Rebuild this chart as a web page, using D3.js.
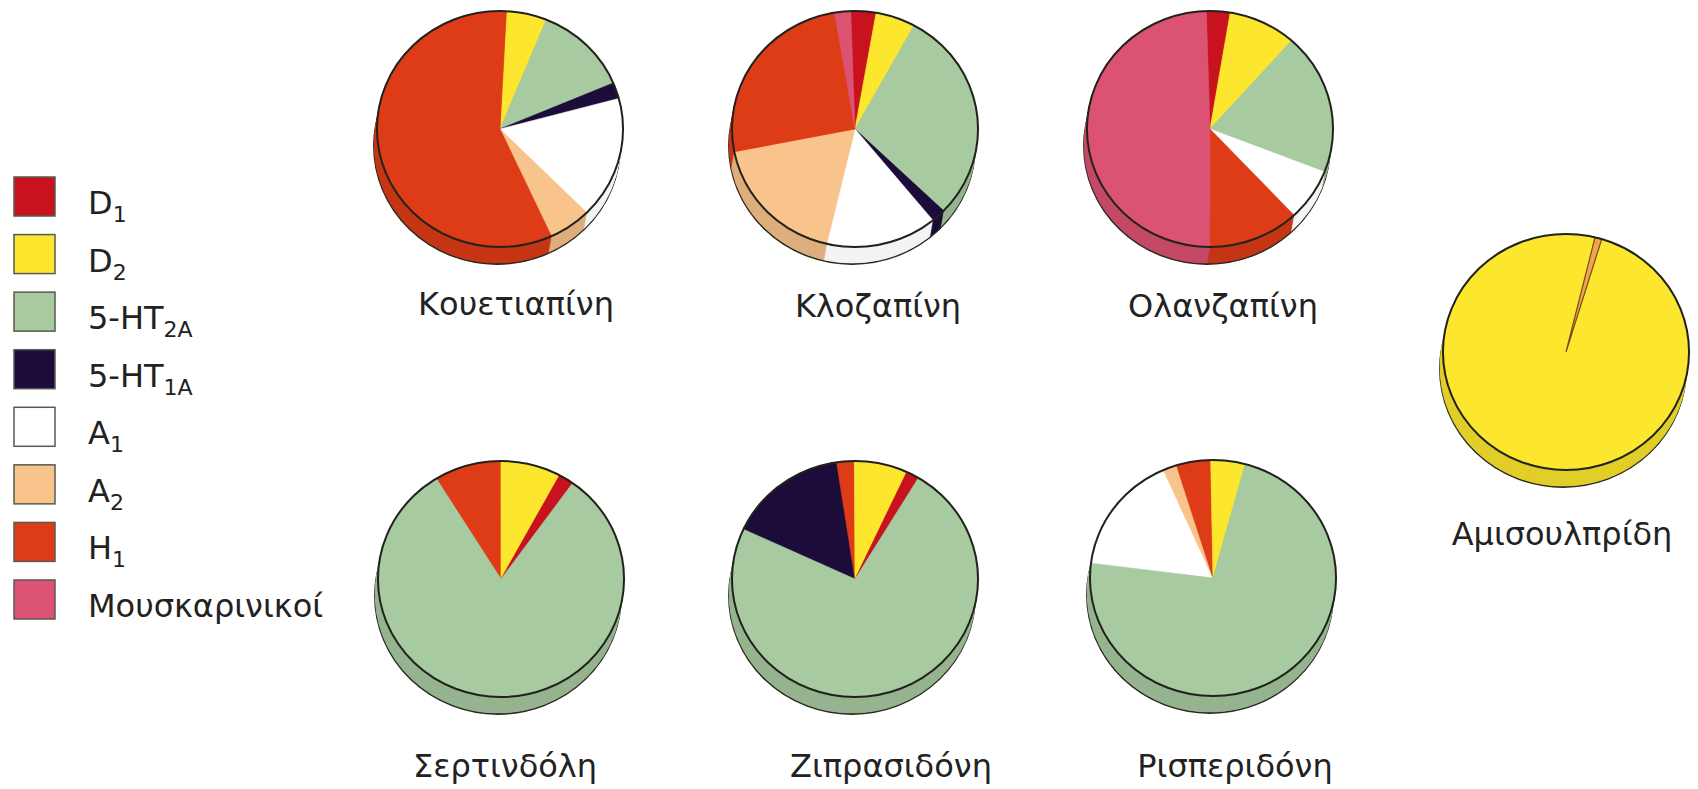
<!DOCTYPE html>
<html>
<head>
<meta charset="utf-8">
<script src="https://cdn.jsdelivr.net/npm/d3@7"></script>
<style>
  html, body { margin: 0; padding: 0; background: #ffffff; }
  svg { display: block; }
  text { font-family: "DejaVu Sans", sans-serif; fill: #222222; }
</style>
</head>
<body>
<svg id="chart" width="1698" height="789"></svg>
<script>
// ---------------- DATA ----------------
const categories = ["D1", "D2", "5-HT2A", "5-HT1A", "A1", "A2", "H1", "Musc"];
const legendMain = ["D", "D", "5-HT", "5-HT", "A", "A", "H", "Μουσκαρινικοί"];
const legendSub  = ["1", "2", "2A", "1A", "1", "2", "1", ""];

const drugs = ["Κουετιαπίνη", "Κλοζαπίνη", "Ολανζαπίνη",
               "Σερτινδόλη", "Ζιπρασιδόνη", "Ρισπεριδόνη", "Αμισουλπρίδη"];

// slice order (clockwise) per drug
const sliceKeys = [
  ["D2", "5-HT2A", "5-HT1A", "A1", "A2", "H1"],
  ["D1", "D2", "5-HT2A", "5-HT1A", "A1", "A2", "H1", "Musc"],
  ["D1", "D2", "5-HT2A", "A1", "H1", "Musc"],
  ["H1", "D2", "D1", "5-HT2A"],
  ["5-HT1A", "H1", "D2", "D1", "5-HT2A"],
  ["A1", "A2", "H1", "D2", "5-HT2A"],
  ["D2", "A2"]
];
// share of each slice (%)
const sliceValues = [
  [5.3, 12.5, 2.2, 16.7, 5.6, 57.7],
  [3.3, 5.2, 29.2, 1.9, 14.6, 18.2, 25.4, 2.1],
  [3.1, 8.9, 19.4, 7.1, 12.0, 49.5],
  [8.8, 7.9, 2.0, 81.3],
  [15.7, 2.3, 7.0, 1.7, 73.3],
  [16.4, 1.8, 4.5, 4.5, 72.8],
  [99.1, 0.9]
];

// ---------------- LAYOUT / STYLE ----------------
const colors = {
  "D1": "#c8121e", "D2": "#fde72e", "5-HT2A": "#a8caa0", "5-HT1A": "#1c0c3a",
  "A1": "#ffffff", "A2": "#f9c48c", "H1": "#de3c16", "Musc": "#dc5272"
};
// rotation of first slice (degrees clockwise from 12 o'clock)
const startDeg = [3, -2, -1.7, -31.7, -65.1, -82.8, 16.9];
const centers = [[500, 129], [855, 129], [1210, 129],
                 [501, 579], [855, 579], [1213, 578], [1566, 352]];
const labelPos = [[516, 315], [878, 317], [1223, 317],
                  [505, 777], [891, 777], [1235, 777], [1562, 545]];
const RX = 123, RY = 118, DEPTH = 17, SHIFTX = -3;

const svg = d3.select("#chart");
svg.append("rect").attr("width", 1698).attr("height", 789).attr("fill", "#ffffff");

const arc = d3.arc().innerRadius(0).outerRadius(RX);
const fullArc = d3.arc().innerRadius(0).outerRadius(RX).startAngle(0).endAngle(2 * Math.PI);

function sideColor(c) {
  if (c.toLowerCase() === "#ffffff") return "#f4f4f4";
  return d3.color(c).darker(0.32).formatHex();
}

drugs.forEach((name, i) => {
  const s = startDeg[i] * Math.PI / 180;
  const pie = d3.pie().sort(null).value(d => d.v)
    .startAngle(s).endAngle(s + 2 * Math.PI);
  const slices = pie(sliceKeys[i].map((k, j) => ({ k, v: sliceValues[i][j] })));
  const [cx, cy] = centers[i];
  const g = svg.append("g");

  // side (extruded copies)
  for (let k = DEPTH; k >= 1; k--) {
    const layer = g.append("g")
      .attr("transform", `translate(${cx + SHIFTX * k / DEPTH},${cy + k}) scale(1,${RY / RX})`);
    layer.selectAll("path").data(slices).join("path")
      .attr("d", arc)
      .attr("fill", d => sideColor(colors[d.data.k]))
      .attr("stroke", d => sideColor(colors[d.data.k]))
      .attr("stroke-width", 0.6)
      .attr("vector-effect", "non-scaling-stroke");
    if (k === DEPTH) {
      layer.append("path").attr("d", fullArc)
        .attr("fill", "none").attr("stroke", "#2a2a22").attr("stroke-width", 1.8)
        .attr("vector-effect", "non-scaling-stroke");
    }
  }

  // top face
  const top = g.append("g")
    .attr("transform", `translate(${cx},${cy}) scale(1,${RY / RX})`);
  const thin = d => (d.endAngle - d.startAngle) < 0.08;
  top.selectAll("path.slice").data(slices).join("path")
    .attr("class", "slice")
    .attr("d", arc)
    .attr("fill", d => thin(d) ? "#f0a650" : colors[d.data.k])
    .attr("stroke", d => thin(d) ? "#7a4a1a" : colors[d.data.k])
    .attr("stroke-width", d => thin(d) ? 1.2 : 0.6)
    .attr("vector-effect", "non-scaling-stroke");
  top.append("path").attr("d", fullArc)
    .attr("fill", "none").attr("stroke", "#22221c").attr("stroke-width", 2)
    .attr("vector-effect", "non-scaling-stroke");

  // label
  svg.append("text")
    .attr("x", labelPos[i][0]).attr("y", labelPos[i][1])
    .attr("text-anchor", "middle")
    .attr("font-size", 32)
    .text(name);
});

// ---------------- LEGEND ----------------
const legendY = d3.scalePoint().domain(categories).range([177, 580]);
const lg = svg.append("g");
categories.forEach((c, i) => {
  const y = legendY(c);
  lg.append("rect")
    .attr("x", 14).attr("y", y).attr("width", 41).attr("height", 39)
    .attr("fill", colors[c]).attr("stroke", "#5a5a50").attr("stroke-width", 1.5);
  const t = lg.append("text").attr("x", 88).attr("y", y + 37).attr("font-size", 32);
  t.append("tspan").text(legendMain[i]);
  if (legendSub[i]) {
    t.append("tspan").attr("font-size", 22).attr("dy", 8).text(legendSub[i]);
  }
});
</script>
</body>
</html>
